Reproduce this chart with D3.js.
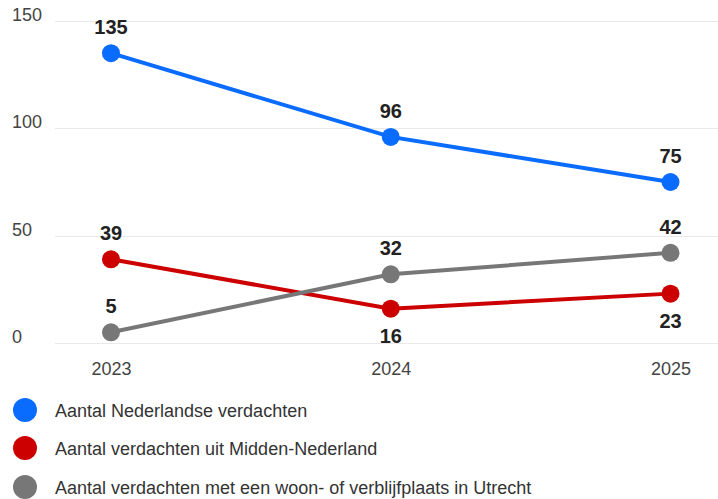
<!DOCTYPE html>
<html>
<head>
<meta charset="utf-8">
<script src="https://cdn.jsdelivr.net/npm/d3@7"></script>
<style>
  html, body { margin: 0; padding: 0; background: #fff; }
  svg { display: block; font-family: "Liberation Sans", Arial, Helvetica, sans-serif; }
</style>
</head>
<body>
<svg id="chart" width="718" height="499"></svg>
<script>
// Years on the x axis
const years = ["2023", "2024", "2025"];
// Series values per year
const nederland = [135, 96, 75];
const middenNederland = [39, 16, 23];
const utrecht = [5, 32, 42];
// Y axis ticks
const yTicks = [0, 50, 100, 150];
// Series names for the legend
const seriesNames = [
  "Aantal Nederlandse verdachten",
  "Aantal verdachten uit Midden-Nederland",
  "Aantal verdachten met een woon- of verblijfplaats in Utrecht"
];
// Label placement per point: above or below the dot
const labelPos = {
  nederland: ["above", "above", "above"],
  midden: ["above", "below", "below"],
  utrecht: ["above", "above", "above"]
};

const series = [
  { key: "nederland", name: seriesNames[0], values: nederland, color: "#0a6cff" },
  { key: "midden", name: seriesNames[1], values: middenNederland, color: "#cc0000" },
  { key: "utrecht", name: seriesNames[2], values: utrecht, color: "#777777" }
];

const svg = d3.select("#chart");

const x = d3.scalePoint().domain(years).range([111, 670.5]);
const y = d3.scaleLinear().domain([0, 150]).range([343, 21]);

// Horizontal gridlines
svg.append("g").selectAll("line")
  .data(yTicks)
  .join("line")
  .attr("x1", 55).attr("x2", 718)
  .attr("y1", d => Math.round(y(d)) + 0.5)
  .attr("y2", d => Math.round(y(d)) + 0.5)
  .attr("stroke", "#e9e9e9")
  .attr("stroke-width", 1);

// Y tick labels
svg.append("g").selectAll("text")
  .data(yTicks)
  .join("text")
  .attr("x", 12)
  .attr("y", d => y(d))
  .attr("font-size", 18)
  .attr("fill", "#444")
  .text(d => d);

// X axis labels
const xAxis = d3.axisBottom(x).tickSize(0).tickPadding(0);
const gx = svg.append("g").attr("transform", "translate(0,361)").call(xAxis);
gx.select(".domain").remove();
gx.selectAll("text")
  .attr("font-size", 18)
  .attr("fill", "#444")
  .attr("font-family", "Liberation Sans, Arial, sans-serif")
  .attr("dy", "0.8em");

const line = d3.line()
  .x((d, i) => x(years[i]))
  .y(d => y(d));

// Lines
svg.append("g").selectAll("path")
  .data(series)
  .join("path")
  .attr("d", s => line(s.values))
  .attr("fill", "none")
  .attr("stroke", s => s.color)
  .attr("stroke-width", 4);

// Dots and value labels
series.forEach(s => {
  const g = svg.append("g");
  g.selectAll("circle")
    .data(s.values)
    .join("circle")
    .attr("cx", (d, i) => x(years[i]))
    .attr("cy", d => y(d))
    .attr("r", 9)
    .attr("fill", s.color);
  g.selectAll("text")
    .data(s.values)
    .join("text")
    .attr("x", (d, i) => x(years[i]))
    .attr("y", (d, i) => labelPos[s.key][i] === "above" ? y(d) - 19 : y(d) + 34)
    .attr("text-anchor", "middle")
    .attr("font-size", 20)
    .attr("font-weight", "bold")
    .attr("fill", "#222")
    .text(d => d);
});

// Legend
const legend = svg.append("g").selectAll("g")
  .data(series)
  .join("g")
  .attr("transform", (d, i) => `translate(0,${[410, 448, 487][i]})`);
legend.append("circle")
  .attr("cx", 25).attr("cy", 0).attr("r", 12)
  .attr("fill", d => d.color);
legend.append("text")
  .attr("x", 55).attr("y", 7)
  .attr("font-size", 18)
  .attr("fill", "#333")
  .text(d => d.name);
</script>
</body>
</html>
